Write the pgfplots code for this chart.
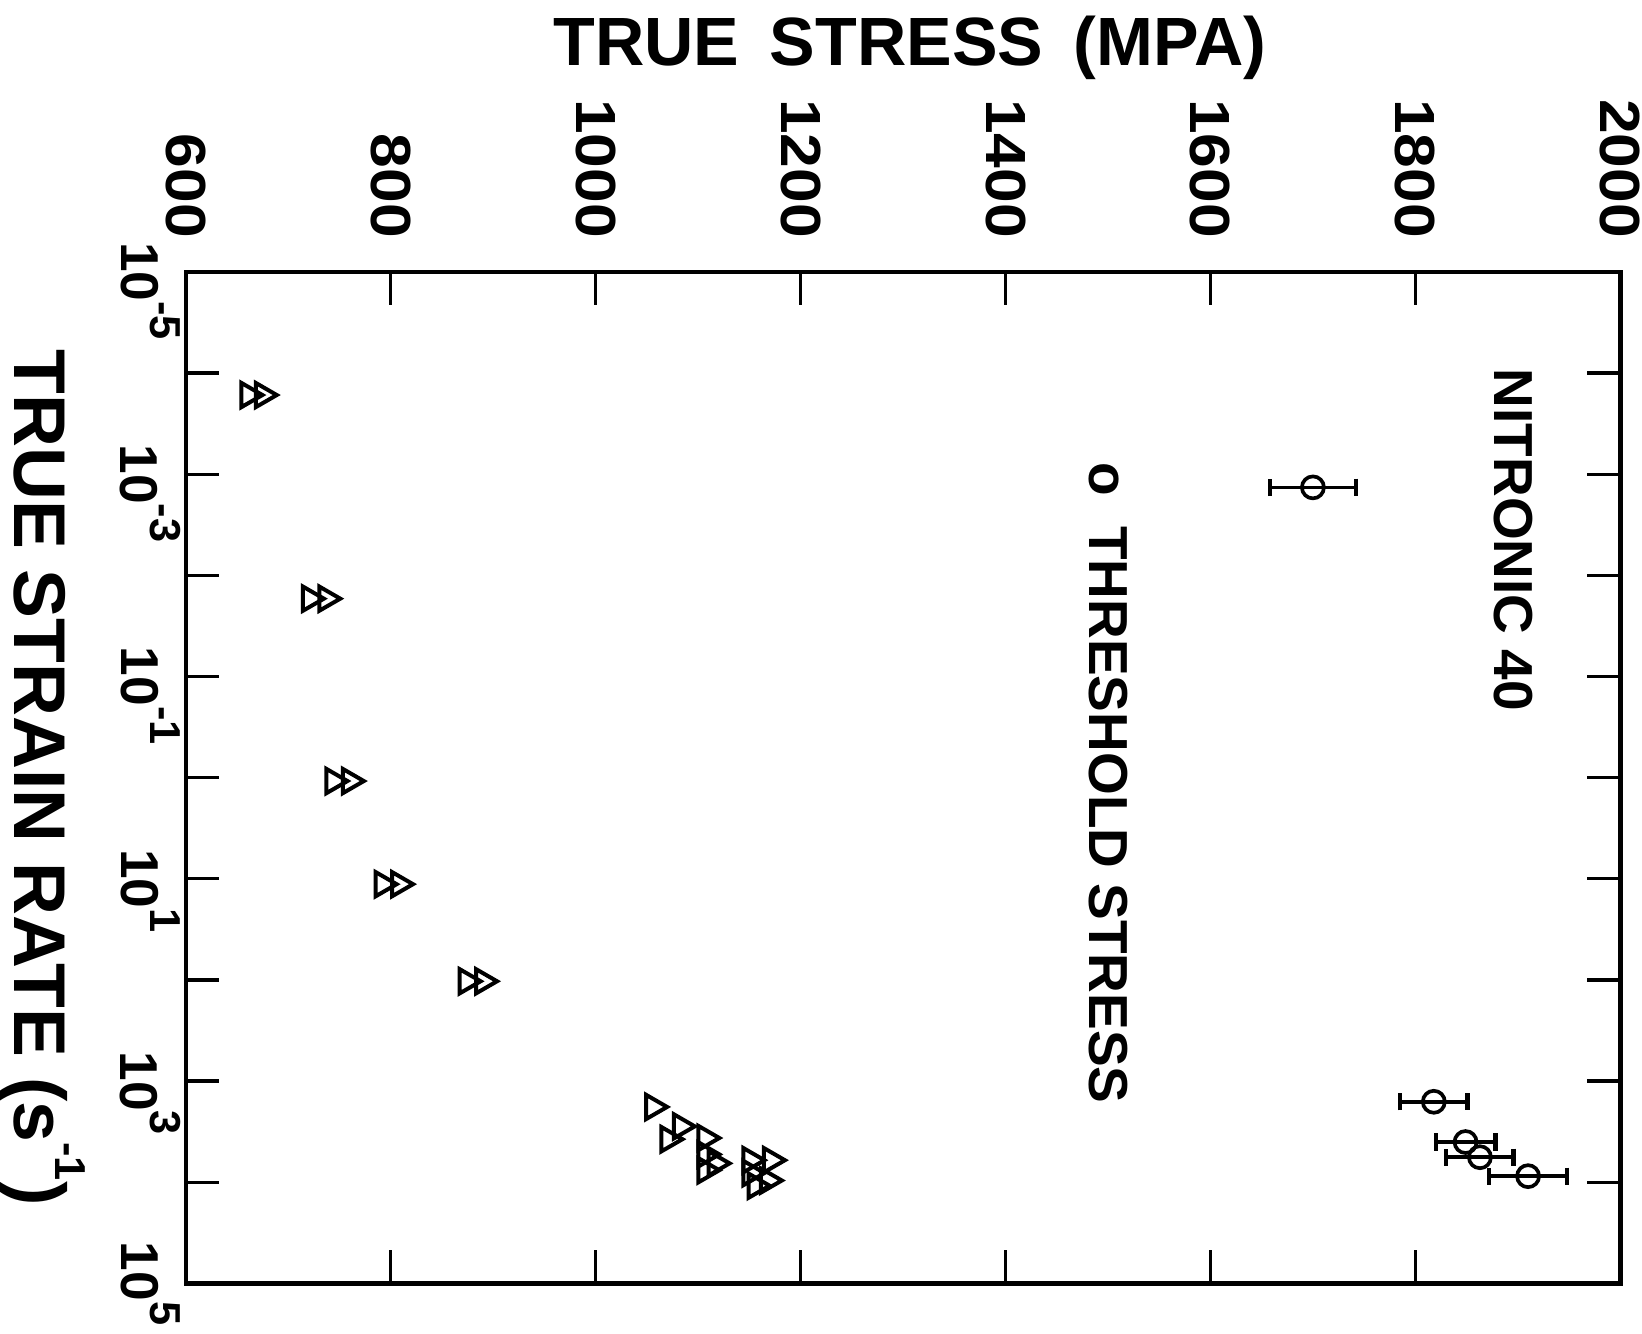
\documentclass[border=0pt]{standalone}
\usepackage{pgfplots}
\pgfplotsset{compat=1.18}
\usepackage{fontspec}
\setmainfont{Liberation Sans}
\newcommand{\supr}[1]{\raisebox{0.55em}{\fontsize{13}{13}\selectfont #1}}
\newcommand{\tp}[1]{\phantom{\supr{#1}}10\supr{#1}}
\newcommand{\xl}[1]{\scalebox{1.1}[1]{#1}}
\begin{document}
\begin{tikzpicture}
\begin{axis}[
  scale only axis, width=430.5pt, height=303.6pt,
  xmin=600, xmax=2000, ymin=1e-5, ymax=1e5, ymode=log, y dir=reverse,
  clip=false,
  axis line style={line width=1.4pt},
  every tick/.style={line width=1pt, black},
  major tick length=10pt,
  yminorticks=false,
  xtick={600,800,...,2000},
  xticklabels={\xl{600},\xl{800},\xl{1000},\xl{1200},\xl{1400},\xl{1600},\xl{1800},\xl{2000}},
  xticklabel pos=right,
  xticklabel shift=9.5pt,
  xticklabel style={rotate=-90, anchor=east, inner sep=0.5pt, font=\fontsize{17}{17}\selectfont\bfseries},
  ytick={1e-5,1e-4,1e-3,1e-2,1e-1,1e0,1e1,1e2,1e3,1e4,1e5},
  yticklabels={\tp{-5},,\tp{-3},,\tp{-1},,\tp{1},,\tp{3},,10\supr{5}},
  yticklabel style={rotate=-90, anchor=north, inner sep=1.5pt, font=\fontsize{16}{16}\selectfont\bfseries},
]
% threshold stress with error bars
\addplot[only marks, mark=o, black, mark size=3.3pt, line width=1.1pt,
  mark options={fill=white, line width=1.1pt},
  error bars/.cd, x dir=both, x explicit,
  error bar style={line width=1.1pt},
  error mark options={rotate=90, mark size=2.6pt, line width=1.4pt}]
  coordinates {
  (1700,1.35e-3) +- (42,0)
  (1818,1.6e3) +- (33,0)
  (1849,4.0e3) +- (29,0)
  (1863,5.65e3) +- (33,0)
  (1910,8.7e3) +- (38,0)
  };
% flow stress (triangles)
\addplot[only marks, mark=triangle, black, mark size=4.2pt,
  mark options={rotate=-90, line width=1.2pt}]
  coordinates {
  (661,1.65e-4) (675,1.65e-4)
  (721,1.7e-2) (737,1.7e-2)
  (744,1.08) (760,1.08)
  (792,11.3) (808,11.3)
  (874,103) (890,103)
  (1056,1.8e3)
  (1083,2.8e3)
  (1071,3.75e3)
  (1107,3.65e3)
  (1107,5.3e3)
  (1117,6.5e3)
  (1107,7.6e3)
  (1151,6.05e3)
  (1151,8.1e3)
  (1171,6.05e3)
  (1168,9.6e3)
  (1156,1.08e4)
  };
\node[rotate=-90, anchor=center, font=\fontsize{16.5}{16.5}\selectfont\bfseries] at (axis cs:1896,4.47e-3) {NITRONIC 40};
\node[rotate=-90, anchor=west, inner sep=0pt, font=\fontsize{16.5}{16.5}\selectfont\bfseries] at (axis cs:1500,7.6e-4) {o\hspace{9pt}THRESHOLD STRESS};
\end{axis}
\node[anchor=base, font=\fontsize{20.5}{20.5}\selectfont\bfseries] at ([xshift=2pt,yshift=62pt]current axis.north) {TRUE\hspace{0.45em}STRESS\hspace{0.45em}(MPA)};
\node[rotate=-90, anchor=center, inner sep=0pt, font=\fontsize{22}{22}\selectfont\bfseries] at ([xshift=-51.3pt]current axis.west) {\smash{TRUE STRAIN RATE (s\supr{-1})}};
\path ([shift={(-55.8pt,-15pt)}]current axis.south west) rectangle ([shift={(6.3pt,81.6pt)}]current axis.north east);
\end{tikzpicture}
\end{document}
